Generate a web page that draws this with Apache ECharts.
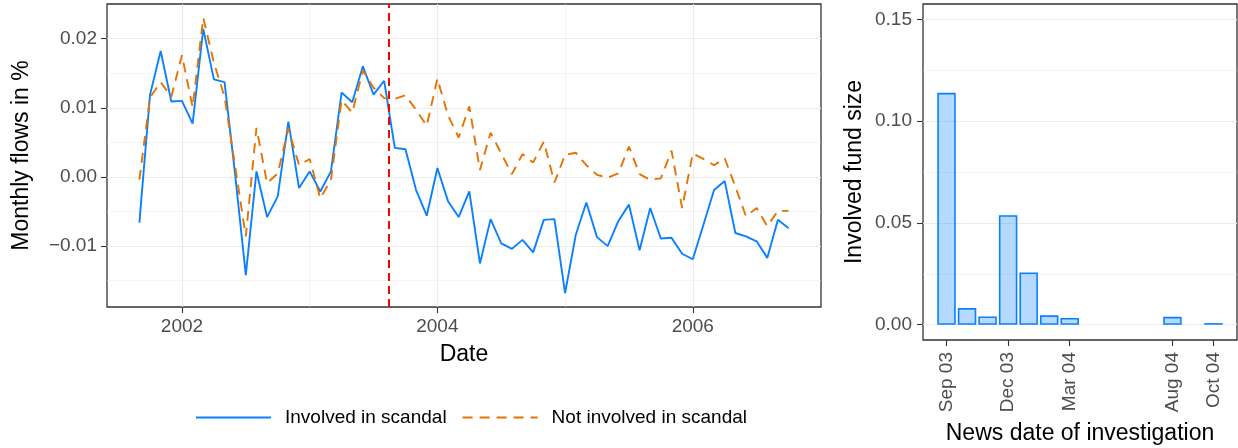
<!DOCTYPE html>
<html>
<head>
<meta charset="utf-8">
<script src="https://cdn.jsdelivr.net/npm/echarts@6/dist/echarts.min.js"></script>
<style>
  html, body { margin: 0; padding: 0; background: #ffffff; }
  #chart { width: 1238px; height: 448px; }
</style>
</head>
<body>
<div id="chart"></div>
<script>
// ---- Monthly flows, Sep 2001 .. Oct 2006 ----
const firstMonth = { year: 2001, month: 9 };

const involvedFlows = [
  -0.0066, 0.0119, 0.0182, 0.0109,                                                          // 2001 Sep-Dec
  0.0110, 0.0077, 0.0214, 0.0141, 0.0137, 0.0003, -0.0142, 0.0008, -0.0058, -0.0028, 0.0080, -0.0016, // 2002
  0.0008, -0.0021, 0.0008, 0.0122, 0.0108, 0.0160, 0.0119, 0.0139, 0.0042, 0.0040, -0.0019, -0.0056,  // 2003
  0.0013, -0.0035, -0.0058, -0.0021, -0.0125, -0.0061, -0.0096, -0.0104, -0.0091, -0.0109, -0.0062, -0.0061, // 2004
  -0.0168, -0.0084, -0.0037, -0.0087, -0.0100, -0.0064, -0.0040, -0.0106, -0.0045, -0.0089, -0.0088, -0.0111, // 2005
  -0.0119, -0.0069, -0.0019, -0.0006, -0.0081, -0.0086, -0.0093, -0.0117, -0.0062, -0.0074  // 2006 Jan-Oct
];

const notInvolvedFlows = [
  -0.0004, 0.0115, 0.0137, 0.0116,
  0.0176, 0.0101, 0.0230, 0.0165, 0.0116, 0.0015, -0.0086, 0.0071, -0.0009, 0.0005, 0.0070, 0.0017,
  0.0026, -0.0031, -0.0004, 0.0111, 0.0093, 0.0154, 0.0129, 0.0114, 0.0113, 0.0118, 0.0097, 0.0074,
  0.0142, 0.0089, 0.0057, 0.0102, 0.0010, 0.0064, 0.0034, 0.0004, 0.0033, 0.0021, 0.0051, -0.0008,
  0.0032, 0.0035, 0.0017, 0.0003, -0.0001, 0.0005, 0.0044, 0.0004, -0.0004, -0.0002, 0.0038, -0.0045,
  0.0034, 0.0026, 0.0017, 0.0027, -0.0014, -0.0057, -0.0045, -0.0071, -0.0049, -0.0049
];

const flowYearTicks = [2002, 2004, 2006];
const flowYearMinor = [2003, 2005];
const flowValueTicks = [-0.01, 0, 0.01, 0.02];
const flowValueMinor = [-0.015, -0.005, 0.005, 0.015];
const scandalNewsYear = 2003.62;   // first news of the investigation (decimal year)

// ---- Involved fund size by news date ----
const newsMonths = ['2003-09', '2003-10', '2003-11', '2003-12', '2004-01', '2004-02', '2004-03', '2004-08', '2004-10'];
const fundSize   = [0.1139, 0.0082, 0.0041, 0.0538, 0.0257, 0.0046, 0.0033, 0.0039, 0.0008];
const newsTickMonths = ['2003-09', '2003-12', '2004-03', '2004-08', '2004-10'];
const newsTickLabels = ['Sep 03', 'Dec 03', 'Mar 04', 'Aug 04', 'Oct 04'];
const sizeTicks = [0, 0.05, 0.10, 0.15];
const sizeMinor = [0.025, 0.075, 0.125];

// ---- helpers ----
const FONT = "'Liberation Sans', Arial, Helvetica, sans-serif";
const BLUE = '#0A80FF';
const ORANGE = '#E57300';
const GRID = '#EBEBEB';
const INK = '#333333';
const TICK_TEXT = '#4D4D4D';

function decimalYear(i) {
  return firstMonth.year + (firstMonth.month - 1 + i) / 12;
}
function monthIndex(ym) {              // months since Sep 2003
  const [y, m] = ym.split('-').map(Number);
  return (y - 2003) * 12 + (m - 9);
}
function signed(v, digits) {
  const s = Math.abs(v).toFixed(digits);
  return v < -1e-12 ? '\u2212' + s : s;
}

const involvedData = involvedFlows.map((v, i) => [decimalYear(i), v]);
const notInvolvedData = notInvolvedFlows.map((v, i) => [decimalYear(i), v]);
const fundData = newsMonths.map((m, i) => [monthIndex(m), fundSize[i]]);
const newsTickIdx = newsTickMonths.map(monthIndex);
const newsLabelOf = {};
newsTickIdx.forEach((k, i) => { newsLabelOf[k] = newsTickLabels[i]; });

function ticks(values) {
  return { show: true, length: 6, customValues: values, lineStyle: { color: INK, width: 1.1 } };
}
function labels(values, margin, formatter, extra) {
  return Object.assign({ color: TICK_TEXT, fontSize: 19, fontFamily: FONT, margin: margin, customValues: values, formatter: formatter }, extra || {});
}
function majorAxis(extra) {
  return Object.assign({
    type: 'value',
    axisLine: { show: false, onZero: false },
    splitLine: { show: true, lineStyle: { color: GRID, width: 1.1 } },
    nameTextStyle: { color: '#000', fontSize: 23, fontFamily: FONT },
    nameLocation: 'middle'
  }, extra);
}
function minorAxis(extra) {
  return Object.assign({
    type: 'value',
    axisLine: { show: false, onZero: false },
    axisLabel: { show: false },
    splitLine: { show: true, lineStyle: { color: GRID, width: 0.6 } }
  }, extra);
}

const chart = echarts.init(document.getElementById('chart'), null, { renderer: 'canvas' });

const flowXRange = { min: 2001.413, max: 2007.004 };
const flowYRange = { min: -0.0188, max: 0.0250 };
const newsXRange = { min: -1.145, max: 14.145 };
const sizeYRange = { min: -0.0075, max: 0.1575 };

chart.setOption({
  animation: false,
  backgroundColor: '#ffffff',
  textStyle: { fontFamily: FONT },
  grid: [
    { left: 107, top: 4, width: 714, height: 303, outerBoundsMode: 'none', containLabel: false,
      show: true, borderColor: INK, borderWidth: 1.3, backgroundColor: 'transparent' },
    { left: 923, top: 4, width: 314, height: 336, outerBoundsMode: 'none', containLabel: false,
      show: true, borderColor: INK, borderWidth: 1.3, backgroundColor: 'transparent' }
  ],
  legend: {
    left: 190, top: 403,
    itemWidth: 75, itemHeight: 14, itemGap: 15,
    itemStyle: { opacity: 0 },
    textStyle: { fontSize: 19, color: '#000', fontFamily: FONT, padding: [0, 0, 0, 9] },
    data: ['Involved in scandal', 'Not involved in scandal']
  },
  xAxis: [
    majorAxis(Object.assign({
      gridIndex: 0,
      name: 'Date', nameGap: 36,
      axisTick: ticks(flowYearTicks),
      axisLabel: labels(flowYearTicks, 10, v => String(Math.round(v)))
    }, flowXRange)),
    minorAxis(Object.assign({ gridIndex: 0, axisTick: { show: false, customValues: flowYearMinor } }, flowXRange)),
    majorAxis(Object.assign({
      gridIndex: 1,
      name: 'News date of investigation', nameGap: 82,
      axisTick: ticks(newsTickIdx),
      axisLabel: labels(newsTickIdx, 12, v => newsLabelOf[Math.round(v)] || '', { rotate: 90 }),
      splitLine: { show: false }
    }, newsXRange))
  ],
  yAxis: [
    majorAxis(Object.assign({
      gridIndex: 0,
      name: 'Monthly flows in %', nameGap: 74,
      axisTick: ticks(flowValueTicks),
      axisLabel: labels(flowValueTicks, 10, v => signed(v, 2))
    }, flowYRange)),
    minorAxis(Object.assign({ gridIndex: 0, axisTick: { show: false, customValues: flowValueMinor } }, flowYRange)),
    majorAxis(Object.assign({
      gridIndex: 1,
      name: 'Involved fund size', nameGap: 57,
      axisTick: ticks(sizeTicks),
      axisLabel: labels(sizeTicks, 11, v => signed(v, 2))
    }, sizeYRange)),
    minorAxis(Object.assign({ gridIndex: 1, axisTick: { show: false, customValues: sizeMinor } }, sizeYRange))
  ],
  series: [
    {
      name: 'Involved in scandal',
      type: 'line', xAxisIndex: 0, yAxisIndex: 0,
      data: involvedData,
      symbol: 'none', z: 3,
      lineStyle: { color: BLUE, width: 1.9, type: 'solid' },
      itemStyle: { color: BLUE },
      markLine: {
        silent: true, symbol: 'none', label: { show: false },
        lineStyle: { color: '#FF0000', width: 2, type: [8, 5] },
        data: [{ xAxis: scandalNewsYear }]
      }
    },
    {
      name: 'Not involved in scandal',
      type: 'line', xAxisIndex: 0, yAxisIndex: 0,
      data: notInvolvedData,
      symbol: 'none', z: 4,
      lineStyle: { color: ORANGE, width: 1.9, type: [10, 7] },
      itemStyle: { color: ORANGE }
    },
    {
      name: 'Involved fund size',
      type: 'bar', xAxisIndex: 2, yAxisIndex: 2,
      data: fundData,
      barWidth: 18.5,
      itemStyle: { color: 'rgba(10,128,255,0.3)', borderColor: BLUE, borderWidth: 1.6 }
    }
  ]
});
</script>
</body>
</html>
